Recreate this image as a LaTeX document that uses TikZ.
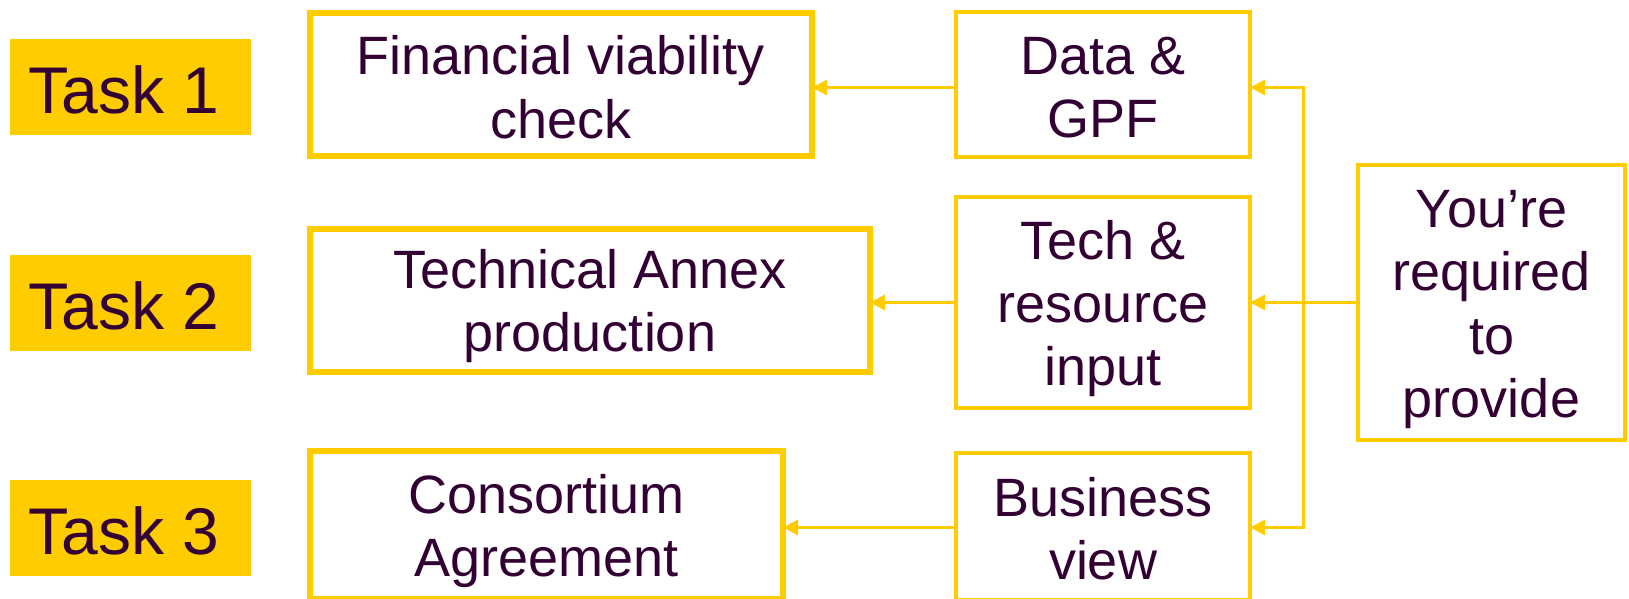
\documentclass[tikz,border=0pt]{standalone}
\usepackage{fontspec}
\setmainfont{Liberation Sans}
\usetikzlibrary{arrows.meta}
\definecolor{ylw}{HTML}{FFCC00}
\definecolor{txt}{HTML}{330033}
\newcommand{\ls}{\rule[-0.157em]{0pt}{1.117em}}
\newcommand{\tsk}[1]{\hspace*{-13pt}\raisebox{-3pt}[\height][\depth]{#1}}
\begin{document}
\begin{tikzpicture}[x=1pt,y=-1pt,
  every node/.style={text=txt, align=center, inner sep=0pt, outer sep=0pt},
  taskbox/.style={fill=ylw, minimum width=241pt, minimum height=96pt, font=\fontsize{66}{72}\selectfont},
  bigbox/.style={draw=ylw, line width=6pt, fill=white, font=\fontsize{54}{63}\selectfont},
  smallbox/.style={draw=ylw, line width=3.5pt, fill=white, font=\fontsize{54}{63}\selectfont},
  arr/.style={draw=ylw, line width=3pt, -{Triangle[length=15pt,width=15pt]}},
  arr2/.style={draw=ylw, line width=3pt, {Triangle[length=15pt,width=15pt]}-{Triangle[length=15pt,width=15pt]}}
]
\useasboundingbox (0,0) rectangle (1629,599);
\node[taskbox] (t1) at (130.5,87) {\tsk{Task 1}};
\node[taskbox] (t2) at (130.5,302.5) {\tsk{Task 2}};
\node[taskbox] (t3) at (130.5,527.5) {\tsk{Task 3}};

\node[bigbox, minimum width=502pt, minimum height=143pt] (fin) at (561,84.5) {\ls Financial viability\\\ls check};
\node[bigbox, minimum width=560pt, minimum height=143pt] (techa) at (590,300) {\ls Technical Annex\\\ls production};
\node[bigbox, minimum width=473pt, minimum height=148pt] (cons) at (546.5,525) {\ls Consortium\\\ls Agreement};

\node[smallbox, minimum width=294pt, minimum height=145pt] (data) at (1103,84.5) {\ls Data \&\\\ls GPF};
\node[smallbox, minimum width=294pt, minimum height=211pt] (tech) at (1103,302.5) {\ls Tech \&\\\ls resource\\\ls input};
\node[smallbox, minimum width=294pt, minimum height=147pt] (biz) at (1103,526.5) {\ls Business\\\ls view};
\node[smallbox, minimum width=267pt, minimum height=275pt] (you) at (1491.5,302.5) {\ls You’re\\\ls required\\\ls to\\\ls provide};

\coordinate (bx) at (1303,0);
\draw[arr] ([yshift=-3pt]data.west) -- ([yshift=-3pt]fin.east |- data.west);
\draw[arr] (tech.west) -- (techa.east |- tech.west);
\draw[arr] ([yshift=-1pt]biz.west) -- ([yshift=-1pt]cons.east |- biz.west);
\draw[arr2] ([yshift=-3pt]data.east) -- ([yshift=-3pt]bx |- data.east) -- ([yshift=-1pt]bx |- biz.east) -- ([yshift=-1pt]biz.east);
\draw[arr] (you.west) -- (tech.east |- you.west);
\end{tikzpicture}
\end{document}
